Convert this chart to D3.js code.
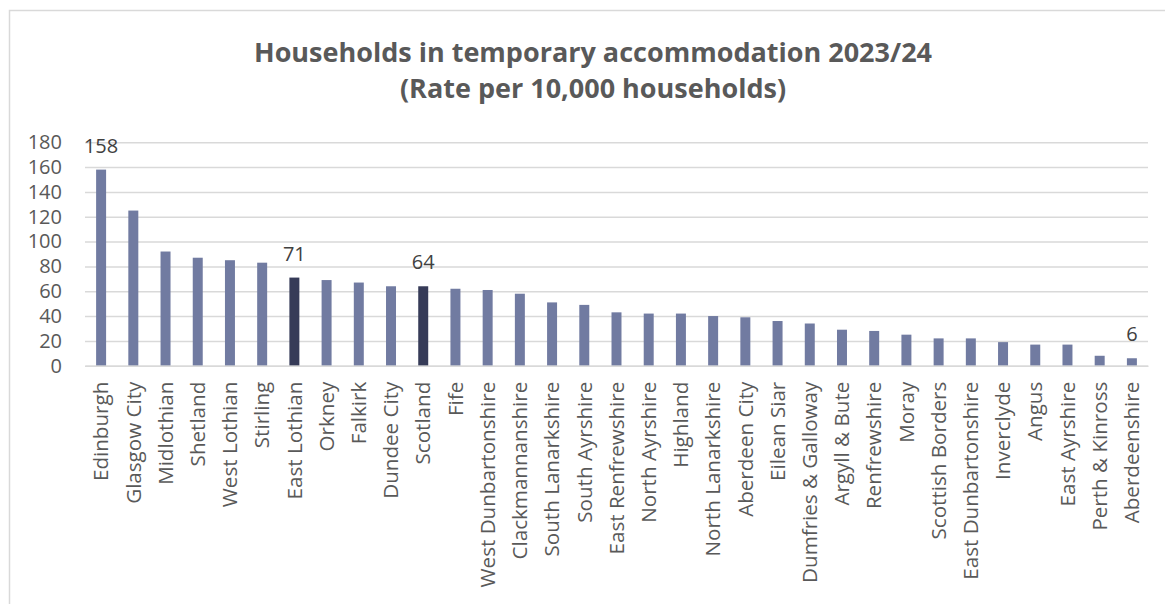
<!DOCTYPE html>
<html>
<head>
<meta charset="utf-8">
<script src="https://cdn.jsdelivr.net/npm/d3@7"></script>
<style>
    body { margin: 0; background: #fff; }
    svg text { font-family: "Open Sans", "Noto Sans", sans-serif; }
</style>
</head>
<body>
<svg id="chart" width="1165" height="604"></svg>
<script>
// chart data
var areas = ["Edinburgh", "Glasgow City", "Midlothian", "Shetland", "West Lothian",
             "Stirling", "East Lothian", "Orkney", "Falkirk", "Dundee City",
             "Scotland", "Fife", "West Dunbartonshire", "Clackmannanshire",
             "South Lanarkshire", "South Ayrshire", "East Renfrewshire",
             "North Ayrshire", "Highland", "North Lanarkshire", "Aberdeen City",
             "Eilean Siar", "Dumfries & Galloway", "Argyll & Bute", "Renfrewshire",
             "Moray", "Scottish Borders", "East Dunbartonshire", "Inverclyde",
             "Angus", "East Ayrshire", "Perth & Kinross", "Aberdeenshire"];
var rates = [158, 125, 92, 87, 85, 83, 71, 69, 67, 64, 64, 62, 61, 58, 51, 49, 43,
             42, 42, 40, 39, 36, 34, 29, 28, 25, 22, 22, 19, 17, 17, 8, 6];
var highlighted = ["East Lothian", "Scotland"];
var labelled = ["Edinburgh", "East Lothian", "Scotland", "Aberdeenshire"];
var yTicks = [0, 20, 40, 60, 80, 100, 120, 140, 160, 180];
var titleLines = ["Households in temporary accommodation 2023/24",
                  "(Rate per 10,000 households)"];

(function()
{
    "use strict";

    var svg = d3.select("#chart");
    var data = areas.map((a, i) => ({ area: a, rate: rates[i] }));

    var left = 85, right = 1148, top = 142.3, bottom = 365.7;

    // outer frame of the chart object
    svg.append("rect")
       .attr("x", 9.5)
       .attr("y", 10.5)
       .attr("width", 1200)
       .attr("height", 700)
       .attr("fill", "#fff")
       .attr("stroke", "#d9d9d9")
       .attr("stroke-width", 1.5);

    // title
    svg.selectAll("text.title")
       .data(titleLines)
       .enter()
       .append("text")
       .attr("class", "title")
       .attr("x", 593)
       .attr("y", (d, i) => 62 + i * 36)
       .attr("text-anchor", "middle")
       .attr("font-size", 27)
       .attr("font-weight", "bold")
       .attr("fill", "#595959")
       .text((d) => d);

    var x = d3.scaleBand()
              .domain(areas)
              .range([left, right])
              .paddingInner(0.69)
              .paddingOuter(0.345);

    var y = d3.scaleLinear()
              .domain([0, 180])
              .range([bottom, top]);

    // gridlines + y labels
    var yAxis = svg.append("g")
                   .attr("transform", `translate(${left},0)`)
                   .call(d3.axisLeft(y)
                           .tickValues(yTicks)
                           .tickSize(-(right - left))
                           .tickPadding(23));
    yAxis.select(".domain").remove();
    yAxis.selectAll(".tick line")
         .attr("stroke", "#d9d9d9")
         .attr("stroke-width", 1.5);
    yAxis.selectAll(".tick text")
         .attr("font-size", 20)
         .attr("font-family", "Open Sans")
         .attr("fill", "#595959");

    // bars
    svg.selectAll("rect.bar")
       .data(data)
       .enter()
       .append("rect")
       .attr("class", "bar")
       .attr("x", (d) => x(d.area))
       .attr("y", (d) => y(d.rate))
       .attr("width", x.bandwidth())
       .attr("height", (d) => y(0) - y(d.rate))
       .attr("fill", (d) => highlighted.includes(d.area) ? "#363b58" : "#717ba1");

    // category axis
    var xAxis = svg.append("g")
                   .attr("transform", `translate(0,${bottom})`)
                   .call(d3.axisBottom(x).tickSize(0).tickPadding(0));
    xAxis.select(".domain")
         .attr("stroke", "#d9d9d9")
         .attr("stroke-width", 1.5);
    xAxis.selectAll(".tick text")
         .attr("font-size", 20.6)
         .attr("font-family", "Open Sans")
         .attr("fill", "#595959")
         .attr("text-anchor", "end")
         .attr("transform", "translate(0,16) rotate(-90)")
         .attr("x", 0)
         .attr("y", 0)
         .attr("dy", "0.35em");

    // value labels
    svg.selectAll("text.value")
       .data(data.filter((d) => labelled.includes(d.area)))
       .enter()
       .append("text")
       .attr("class", "value")
       .attr("x", (d) => x(d.area) + x.bandwidth() / 2)
       .attr("y", (d) => y(d.rate) - 17)
       .attr("text-anchor", "middle")
       .attr("font-size", 20)
       .attr("fill", "#404040")
       .text((d) => d.rate);
}
)();
</script>
</body>
</html>
